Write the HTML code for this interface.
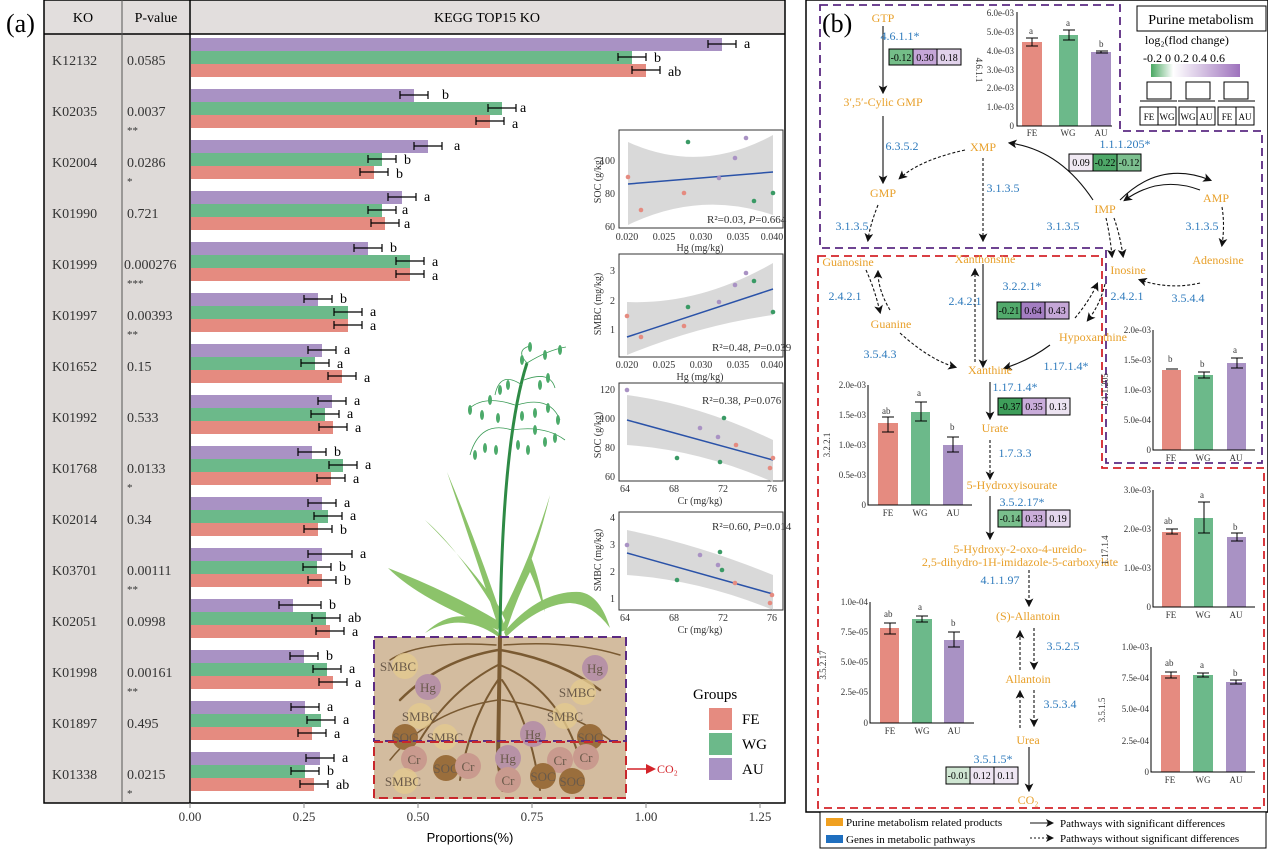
<!DOCTYPE html>
<html><head><meta charset="utf-8"><style>
html,body{margin:0;padding:0;background:#fff;}
svg{display:block;font-family:"Liberation Serif",serif;}
.o{fill:#e8a02a;font-size:12px;text-anchor:middle;}
.b{fill:#2f7bbd;font-size:12px;text-anchor:middle;}
.s{font-size:9px;fill:#333;}
</style></head><body>
<svg width="1268" height="850" viewBox="0 0 1268 850" xmlns="http://www.w3.org/2000/svg">
<rect width="1268" height="850" fill="#fff"/>
<!-- ===== Panel a ===== -->
<text x="6" y="32" font-size="26">(a)</text>
<rect x="44" y="0" width="146" height="803" fill="#dedad8"/>
<rect x="44" y="0" width="741" height="34" fill="#e2dedd"/>
<rect x="44" y="0" width="741" height="803" fill="none" stroke="#000" stroke-width="1.5"/>
<line x1="44" y1="34" x2="785" y2="34" stroke="#000" stroke-width="1.5"/>
<line x1="122" y1="0" x2="122" y2="803" stroke="#555" stroke-width="1"/>
<line x1="190" y1="0" x2="190" y2="803" stroke="#000" stroke-width="1.5"/>
<text x="83" y="22" font-size="14" text-anchor="middle">KO</text>
<text x="156" y="22" font-size="14" text-anchor="middle">P-value</text>
<text x="487" y="22" font-size="14" text-anchor="middle">KEGG  TOP15  KO</text>
<g font-size="14" fill="#333">
<text x="52" y="65">K12132</text><text x="127" y="65">0.0585</text>
<text x="52" y="116">K02035</text><text x="127" y="116">0.0037</text><text x="127" y="134" font-size="11">**</text>
<text x="52" y="167">K02004</text><text x="127" y="167">0.0286</text><text x="127" y="185" font-size="11">*</text>
<text x="52" y="218">K01990</text><text x="127" y="218">0.721</text>
<text x="52" y="269">K01999</text><text x="124" y="269">0.000276</text><text x="127" y="287" font-size="11">***</text>
<text x="52" y="320">K01997</text><text x="127" y="320">0.00393</text><text x="127" y="338" font-size="11">**</text>
<text x="52" y="371">K01652</text><text x="127" y="371">0.15</text>
<text x="52" y="422">K01992</text><text x="127" y="422">0.533</text>
<text x="52" y="473">K01768</text><text x="127" y="473">0.0133</text><text x="127" y="491" font-size="11">*</text>
<text x="52" y="524">K02014</text><text x="127" y="524">0.34</text>
<text x="52" y="575">K03701</text><text x="127" y="575">0.00111</text><text x="127" y="593" font-size="11">**</text>
<text x="52" y="626">K02051</text><text x="127" y="626">0.0998</text>
<text x="52" y="677">K01998</text><text x="127" y="677">0.00161</text><text x="127" y="695" font-size="11">**</text>
<text x="52" y="728">K01897</text><text x="127" y="728">0.495</text>
<text x="52" y="779">K01338</text><text x="127" y="779">0.0215</text><text x="127" y="797" font-size="11">*</text>
</g>
<!-- bars -->
<g>
<rect x="191" y="38" width="531" height="13" fill="#a992c4"/><rect x="191" y="51" width="441" height="13" fill="#6cb98a"/><rect x="191" y="64" width="455" height="13" fill="#e58b80"/>
<rect x="191" y="89" width="223" height="13" fill="#a992c4"/><rect x="191" y="102" width="311" height="13" fill="#6cb98a"/><rect x="191" y="115" width="299" height="13" fill="#e58b80"/>
<rect x="191" y="140" width="237" height="13" fill="#a992c4"/><rect x="191" y="153" width="191" height="13" fill="#6cb98a"/><rect x="191" y="166" width="183" height="13" fill="#e58b80"/>
<rect x="191" y="191" width="211" height="13" fill="#a992c4"/><rect x="191" y="204" width="191" height="13" fill="#6cb98a"/><rect x="191" y="217" width="194" height="13" fill="#e58b80"/>
<rect x="191" y="242" width="177" height="13" fill="#a992c4"/><rect x="191" y="255" width="219" height="13" fill="#6cb98a"/><rect x="191" y="268" width="219" height="13" fill="#e58b80"/>
<rect x="191" y="293" width="127" height="13" fill="#a992c4"/><rect x="191" y="306" width="157" height="13" fill="#6cb98a"/><rect x="191" y="319" width="157" height="13" fill="#e58b80"/>
<rect x="191" y="344" width="131" height="13" fill="#a992c4"/><rect x="191" y="357" width="124" height="13" fill="#6cb98a"/><rect x="191" y="370" width="151" height="13" fill="#e58b80"/>
<rect x="191" y="395" width="141" height="13" fill="#a992c4"/><rect x="191" y="408" width="134" height="13" fill="#6cb98a"/><rect x="191" y="421" width="142" height="13" fill="#e58b80"/>
<rect x="191" y="446" width="121" height="13" fill="#a992c4"/><rect x="191" y="459" width="152" height="13" fill="#6cb98a"/><rect x="191" y="472" width="140" height="13" fill="#e58b80"/>
<rect x="191" y="497" width="131" height="13" fill="#a992c4"/><rect x="191" y="510" width="137" height="13" fill="#6cb98a"/><rect x="191" y="523" width="127" height="13" fill="#e58b80"/>
<rect x="191" y="548" width="131" height="13" fill="#a992c4"/><rect x="191" y="561" width="126" height="13" fill="#6cb98a"/><rect x="191" y="574" width="131" height="13" fill="#e58b80"/>
<rect x="191" y="599" width="102" height="13" fill="#a992c4"/><rect x="191" y="612" width="135" height="13" fill="#6cb98a"/><rect x="191" y="625" width="139" height="13" fill="#e58b80"/>
<rect x="191" y="650" width="113" height="13" fill="#a992c4"/><rect x="191" y="663" width="136" height="13" fill="#6cb98a"/><rect x="191" y="676" width="142" height="13" fill="#e58b80"/>
<rect x="191" y="701" width="114" height="13" fill="#a992c4"/><rect x="191" y="714" width="130" height="13" fill="#6cb98a"/><rect x="191" y="727" width="121" height="13" fill="#e58b80"/>
<rect x="191" y="752" width="129" height="13" fill="#a992c4"/><rect x="191" y="765" width="114" height="13" fill="#6cb98a"/><rect x="191" y="778" width="123" height="13" fill="#e58b80"/>
</g>
<g stroke="#000" stroke-width="1.2" fill="none">
<path d="M708,44H736M708,40V48M736,40V48 M618,57H646M618,53V61M646,53V61 M632,70H660M632,66V74M660,66V74"/>
<path d="M400,95H428M400,91V99M428,91V99 M488,108H516M488,104V112M516,104V112 M476,121H504M476,117V125M504,117V125"/>
<path d="M414,146H442M414,142V150M442,142V150 M368,159H396M368,155V163M396,155V163 M360,172H388M360,168V176M388,168V176"/>
<path d="M388,197H416M388,193V201M416,193V201 M368,210H396M368,206V214M396,206V214 M371,223H399M371,219V227M399,219V227"/>
<path d="M354,248H382M354,244V252M382,244V252 M396,261H424M396,257V265M424,257V265 M396,274H424M396,270V278M424,270V278"/>
<path d="M304,299H332M304,295V303M332,295V303 M334,312H362M334,308V316M362,308V316 M334,325H362M334,321V329M362,321V329"/>
<path d="M308,350H336M308,346V354M336,346V354 M301,363H329M301,359V367M329,359V367 M328,376H356M328,372V380M356,372V380"/>
<path d="M318,401H346M318,397V405M346,397V405 M311,414H339M311,410V418M339,410V418 M319,427H347M319,423V431M347,423V431"/>
<path d="M298,452H326M298,448V456M326,448V456 M329,465H357M329,461V469M357,461V469 M317,478H345M317,474V482M345,474V482"/>
<path d="M308,503H336M308,499V507M336,499V507 M314,516H342M314,512V520M342,512V520 M304,529H332M304,525V533M332,525V533"/>
<path d="M308,554H352M308,550V558M352,550V558 M303,567H331M303,563V571M331,563V571 M308,580H336M308,576V584M336,576V584"/>
<path d="M279,605H321M279,601V609M321,601V609 M312,618H340M312,614V622M340,614V622 M316,631H344M316,627V635M344,627V635"/>
<path d="M290,656H318M290,652V660M318,652V660 M313,669H341M313,665V673M341,665V673 M319,682H347M319,678V686M347,678V686"/>
<path d="M291,707H319M291,703V711M319,703V711 M307,720H335M307,716V724M335,716V724 M298,733H326M298,729V737M326,729V737"/>
<path d="M306,758H334M306,754V762M334,754V762 M291,771H319M291,767V775M319,767V775 M300,784H328M300,780V788M328,780V788"/>
</g>
<g font-size="14">
<text x="744" y="48">a</text><text x="654" y="62">b</text><text x="668" y="76">ab</text>
<text x="442" y="99">b</text><text x="520" y="112">a</text><text x="512" y="128">a</text>
<text x="454" y="150">a</text><text x="404" y="164">b</text><text x="396" y="178">b</text>
<text x="424" y="201">a</text><text x="402" y="214">a</text><text x="404" y="228">a</text>
<text x="390" y="252">b</text><text x="432" y="266">a</text><text x="432" y="280">a</text>
<text x="340" y="303">b</text><text x="370" y="316">a</text><text x="370" y="330">a</text>
<text x="344" y="354">a</text><text x="337" y="368">a</text><text x="364" y="382">a</text>
<text x="354" y="405">a</text><text x="347" y="418">a</text><text x="355" y="432">a</text>
<text x="334" y="456">b</text><text x="365" y="469">a</text><text x="353" y="483">a</text>
<text x="344" y="507">a</text><text x="350" y="520">a</text><text x="340" y="534">b</text>
<text x="360" y="558">a</text><text x="339" y="571">b</text><text x="344" y="585">b</text>
<text x="329" y="609">b</text><text x="348" y="622">ab</text><text x="352" y="636">a</text>
<text x="326" y="660">b</text><text x="349" y="673">a</text><text x="355" y="687">a</text>
<text x="327" y="711">a</text><text x="343" y="724">a</text><text x="334" y="738">a</text>
<text x="342" y="762">a</text><text x="327" y="775">b</text><text x="336" y="789">ab</text>
</g>
<g stroke="#888"><line x1="190" y1="803" x2="190" y2="808"/><line x1="304" y1="803" x2="304" y2="808"/><line x1="418" y1="803" x2="418" y2="808"/><line x1="532" y1="803" x2="532" y2="808"/><line x1="646" y1="803" x2="646" y2="808"/><line x1="760" y1="803" x2="760" y2="808"/></g>
<g font-size="13" fill="#333" text-anchor="middle"><text x="190" y="821">0.00</text><text x="304" y="821">0.25</text><text x="418" y="821">0.50</text><text x="532" y="821">0.75</text><text x="646" y="821">1.00</text><text x="760" y="821">1.25</text></g>
<text x="470" y="842" font-size="13" text-anchor="middle" font-family="Liberation Sans,sans-serif">Proportions(%)</text>
<!-- plant -->
<g fill="#8cc36a">
<path d="M500,632 Q470,540 447,472 Q478,545 506,630Z"/>
<path d="M500,618 Q460,550 425,520 Q470,565 503,612Z"/>
<path d="M500,622 Q450,592 388,568 Q420,600 498,630Z"/>
<path d="M498,632 Q460,600 425,633 Q462,610 500,638Z"/>
<path d="M502,614 Q530,560 550,495 Q535,560 506,622Z"/>
<path d="M502,628 Q520,580 531,557 Q540,580 545,612 Q536,585 530,572 Q516,600 506,632Z"/>
<path d="M504,632 Q540,590 580,592 Q600,595 610,628 Q592,604 570,603 Q540,604 506,637Z"/>
</g>
<path d="M500,637 Q502,440 527,363" stroke="#2e8a45" stroke-width="3" fill="none"/>
<g stroke="#3a9a55" stroke-width="0.8" fill="none">
<path d="M512,430 Q480,420 470,455"/><path d="M512,430 Q545,425 565,440"/><path d="M515,405 Q485,395 470,408"/><path d="M517,405 Q550,395 560,420"/><path d="M522,385 Q500,370 495,395"/><path d="M524,380 Q550,370 555,388"/><path d="M527,363 Q515,350 530,346"/><path d="M527,363 Q548,350 566,347"/>
</g>
<g fill="#4caa6a">
<ellipse cx="475" cy="455" rx="2" ry="5"/><ellipse cx="485" cy="448" rx="2" ry="5"/><ellipse cx="496" cy="450" rx="2" ry="5"/><ellipse cx="518" cy="445" rx="2" ry="5"/><ellipse cx="528" cy="450" rx="2" ry="5"/><ellipse cx="545" cy="442" rx="2" ry="5"/><ellipse cx="555" cy="438" rx="2" ry="5"/><ellipse cx="470" cy="410" rx="2" ry="5"/><ellipse cx="482" cy="415" rx="2" ry="5"/><ellipse cx="498" cy="418" rx="2" ry="5"/><ellipse cx="522" cy="416" rx="2" ry="5"/><ellipse cx="535" cy="413" rx="2" ry="5"/><ellipse cx="548" cy="408" rx="2" ry="5"/><ellipse cx="558" cy="420" rx="2" ry="5"/><ellipse cx="500" cy="390" rx="2" ry="5"/><ellipse cx="508" cy="385" rx="2" ry="5"/><ellipse cx="540" cy="385" rx="2" ry="5"/><ellipse cx="548" cy="378" rx="2" ry="5"/><ellipse cx="522" cy="360" rx="2" ry="5"/><ellipse cx="545" cy="355" rx="2" ry="5"/><ellipse cx="560" cy="350" rx="2" ry="5"/><ellipse cx="530" cy="347" rx="2" ry="5"/><ellipse cx="490" cy="400" rx="2" ry="5"/><ellipse cx="535" cy="430" rx="2" ry="5"/>
</g>
<!-- soil -->
<rect x="374" y="637" width="252" height="162" fill="#d3bc9f"/>
<g fill="none" stroke="#7a5a32" stroke-linecap="round">
<path d="M500,637 L498,760 L503,790" stroke-width="4"/>
<path d="M498,650 Q440,660 400,700" stroke-width="2.5"/><path d="M500,650 Q560,660 600,690" stroke-width="2.5"/>
<path d="M498,665 Q450,690 420,740" stroke-width="2"/><path d="M500,665 Q560,690 580,760" stroke-width="2"/>
<path d="M498,680 Q470,720 460,780" stroke-width="2"/><path d="M502,680 Q530,720 540,790" stroke-width="2"/>
<path d="M498,700 Q430,710 390,760" stroke-width="1.5"/><path d="M502,700 Q570,710 610,740" stroke-width="1.5"/>
<path d="M496,645 Q420,640 390,660" stroke-width="1.5"/><path d="M504,645 Q570,640 620,655" stroke-width="1.5"/>
</g>
<g font-size="13" fill="#6a5a4a" text-anchor="middle">
<circle cx="405" cy="666" r="13" fill="#e3c98f" opacity="0.8"/><text x="398" y="671">SMBC</text>
<circle cx="428" cy="687" r="13" fill="#b792a6"/><text x="428" y="692">Hg</text>
<circle cx="595" cy="668" r="13" fill="#b792a6"/><text x="595" y="673">Hg</text>
<circle cx="583" cy="692" r="13" fill="#e3c98f" opacity="0.8"/><text x="577" y="697">SMBC</text>
<circle cx="420" cy="716" r="13" fill="#e3c98f" opacity="0.8"/><text x="420" y="721">SMBC</text>
<circle cx="565" cy="716" r="13" fill="#e3c98f" opacity="0.8"/><text x="565" y="721">SMBC</text>
<circle cx="405" cy="737" r="13" fill="#9a6e3c"/><text x="405" y="742">SOC</text>
<circle cx="445" cy="737" r="13" fill="#e3c98f" opacity="0.8"/><text x="445" y="742">SMBC</text>
<circle cx="533" cy="734" r="13" fill="#b792a6"/><text x="533" y="739">Hg</text>
<circle cx="590" cy="737" r="13" fill="#9a6e3c"/><text x="590" y="742">SOC</text>
<circle cx="414" cy="759" r="13" fill="#c99a8e"/><text x="414" y="764">Cr</text>
<circle cx="446" cy="768" r="13" fill="#9a6e3c"/><text x="446" y="773">SOC</text>
<circle cx="468" cy="766" r="13" fill="#c99a8e"/><text x="468" y="771">Cr</text>
<circle cx="508" cy="758" r="13" fill="#b792a6"/><text x="508" y="763">Hg</text>
<circle cx="508" cy="780" r="13" fill="#c99a8e"/><text x="508" y="785">Cr</text>
<circle cx="560" cy="760" r="13" fill="#c99a8e"/><text x="560" y="765">Cr</text>
<circle cx="586" cy="757" r="13" fill="#c99a8e"/><text x="586" y="762">Cr</text>
<circle cx="543" cy="776" r="13" fill="#9a6e3c"/><text x="543" y="781">SOC</text>
<circle cx="572" cy="781" r="13" fill="#9a6e3c"/><text x="572" y="786">SOC</text>
<circle cx="405" cy="781" r="13" fill="#e3c98f" opacity="0.8"/><text x="403" y="786">SMBC</text>
</g>
<path d="M374,637H626V741H374Z" fill="none" stroke="#5b2a82" stroke-width="2" stroke-dasharray="9,5"/>
<path d="M374,742H626V798H374Z" fill="none" stroke="#c8272c" stroke-width="2" stroke-dasharray="9,5"/>
<path d="M627,769H650" stroke="#d4242a" stroke-width="1.5"/><path d="M646,764L656,769L646,774Z" fill="#d4242a"/>
<text x="657" y="773" font-size="12" fill="#d4242a">CO₂</text>
<text x="693" y="699" font-size="15">Groups</text>
<rect x="709" y="708" width="23" height="22" fill="#e58b80"/><rect x="709" y="733" width="23" height="22" fill="#6cb98a"/><rect x="709" y="758" width="23" height="22" fill="#a992c4"/>
<text x="742" y="724" font-size="15">FE</text><text x="742" y="749" font-size="15">WG</text><text x="742" y="774" font-size="15">AU</text>
<!-- scatter insets -->
<g font-size="10" fill="#333">
<rect x="619" y="130" width="164" height="98" fill="#fff" stroke="#333"/>
<path d="M628,142 Q700,175 773,135 L773,215 Q700,190 628,225Z" fill="#cfcfcf" opacity="0.8"/>
<line x1="628" y1="184" x2="773" y2="172" stroke="#2a52a8" stroke-width="1.5"/>
<g><circle cx="628" cy="177" r="2.3" fill="#e58b80"/><circle cx="641" cy="210" r="2.3" fill="#e58b80"/><circle cx="684" cy="193" r="2.3" fill="#e58b80"/><circle cx="688" cy="142" r="2.3" fill="#3a9a65"/><circle cx="719" cy="178" r="2.3" fill="#a992c4"/><circle cx="735" cy="158" r="2.3" fill="#a992c4"/><circle cx="746" cy="138" r="2.3" fill="#a992c4"/><circle cx="754" cy="201" r="2.3" fill="#3a9a65"/><circle cx="773" cy="193" r="2.3" fill="#3a9a65"/></g>
<text x="615" y="164" text-anchor="end">100</text><text x="615" y="197" text-anchor="end">80</text><text x="615" y="230" text-anchor="end">60</text>
<text x="707" y="223" font-size="11">R²=0.03, <tspan font-style="italic">P</tspan>=0.664</text>
<text x="627" y="240" text-anchor="middle">0.020</text><text x="664" y="240" text-anchor="middle">0.025</text><text x="701" y="240" text-anchor="middle">0.030</text><text x="738" y="240" text-anchor="middle">0.035</text><text x="772" y="240" text-anchor="middle">0.040</text>
<text x="700" y="251" text-anchor="middle">Hg (mg/kg)</text>
<text transform="translate(601,180) rotate(-90)" text-anchor="middle">SOC (g/kg)</text>

<rect x="619" y="254" width="164" height="103" fill="#fff" stroke="#333"/>
<path d="M627,302 Q700,305 773,263 L773,315 Q700,325 627,355Z" fill="#cfcfcf" opacity="0.8"/>
<line x1="627" y1="337" x2="773" y2="289" stroke="#2a52a8" stroke-width="1.5"/>
<g><circle cx="627" cy="316" r="2.3" fill="#e58b80"/><circle cx="641" cy="337" r="2.3" fill="#e58b80"/><circle cx="684" cy="326" r="2.3" fill="#e58b80"/><circle cx="688" cy="307" r="2.3" fill="#3a9a65"/><circle cx="719" cy="302" r="2.3" fill="#a992c4"/><circle cx="735" cy="285" r="2.3" fill="#a992c4"/><circle cx="746" cy="273" r="2.3" fill="#a992c4"/><circle cx="754" cy="281" r="2.3" fill="#3a9a65"/><circle cx="773" cy="312" r="2.3" fill="#3a9a65"/></g>
<text x="615" y="274" text-anchor="end">3</text><text x="615" y="304" text-anchor="end">2</text><text x="615" y="333" text-anchor="end">1</text>
<text x="712" y="351" font-size="11">R²=0.48, <tspan font-style="italic">P</tspan>=0.039</text>
<text x="627" y="368" text-anchor="middle">0.020</text><text x="664" y="368" text-anchor="middle">0.025</text><text x="701" y="368" text-anchor="middle">0.030</text><text x="738" y="368" text-anchor="middle">0.035</text><text x="772" y="368" text-anchor="middle">0.040</text>
<text x="700" y="380" text-anchor="middle">Hg (mg/kg)</text>
<text transform="translate(601,304) rotate(-90)" text-anchor="middle">SMBC (mg/kg)</text>

<rect x="619" y="383" width="164" height="98" fill="#fff" stroke="#333"/>
<path d="M627,395 Q700,405 773,440 L773,482 Q700,450 627,445Z" fill="#cfcfcf" opacity="0.8"/>
<line x1="627" y1="420" x2="773" y2="460" stroke="#2a52a8" stroke-width="1.5"/>
<g><circle cx="627" cy="390" r="2.3" fill="#a992c4"/><circle cx="677" cy="458" r="2.3" fill="#3a9a65"/><circle cx="700" cy="428" r="2.3" fill="#a992c4"/><circle cx="718" cy="437" r="2.3" fill="#a992c4"/><circle cx="720" cy="462" r="2.3" fill="#3a9a65"/><circle cx="724" cy="418" r="2.3" fill="#3a9a65"/><circle cx="736" cy="445" r="2.3" fill="#e58b80"/><circle cx="770" cy="468" r="2.3" fill="#e58b80"/><circle cx="773" cy="458" r="2.3" fill="#e58b80"/></g>
<text x="615" y="393" text-anchor="end">120</text><text x="615" y="422" text-anchor="end">100</text><text x="615" y="451" text-anchor="end">80</text><text x="615" y="480" text-anchor="end">60</text>
<text x="702" y="404" font-size="11">R²=0.38, <tspan font-style="italic">P</tspan>=0.076</text>
<text x="625" y="492" text-anchor="middle">64</text><text x="674" y="492" text-anchor="middle">68</text><text x="723" y="492" text-anchor="middle">72</text><text x="772" y="492" text-anchor="middle">76</text>
<text x="700" y="504" text-anchor="middle">Cr (mg/kg)</text>
<text transform="translate(601,435) rotate(-90)" text-anchor="middle">SOC (g/kg)</text>

<rect x="619" y="512" width="164" height="98" fill="#fff" stroke="#333"/>
<path d="M627,530 Q700,545 773,575 L773,610 Q700,580 627,575Z" fill="#cfcfcf" opacity="0.8"/>
<line x1="627" y1="553" x2="773" y2="594" stroke="#2a52a8" stroke-width="1.5"/>
<g><circle cx="627" cy="545" r="2.3" fill="#a992c4"/><circle cx="677" cy="580" r="2.3" fill="#3a9a65"/><circle cx="700" cy="555" r="2.3" fill="#a992c4"/><circle cx="718" cy="565" r="2.3" fill="#a992c4"/><circle cx="720" cy="552" r="2.3" fill="#3a9a65"/><circle cx="722" cy="570" r="2.3" fill="#3a9a65"/><circle cx="735" cy="583" r="2.3" fill="#e58b80"/><circle cx="770" cy="603" r="2.3" fill="#e58b80"/><circle cx="772" cy="595" r="2.3" fill="#e58b80"/></g>
<text x="615" y="521" text-anchor="end">4</text><text x="615" y="548" text-anchor="end">3</text><text x="615" y="575" text-anchor="end">2</text><text x="615" y="602" text-anchor="end">1</text>
<text x="712" y="530" font-size="11">R²=0.60, <tspan font-style="italic">P</tspan>=0.014</text>
<text x="625" y="621" text-anchor="middle">64</text><text x="674" y="621" text-anchor="middle">68</text><text x="723" y="621" text-anchor="middle">72</text><text x="772" y="621" text-anchor="middle">76</text>
<text x="700" y="633" text-anchor="middle">Cr (mg/kg)</text>
<text transform="translate(601,560) rotate(-90)" text-anchor="middle">SMBC (mg/kg)</text>
</g>

<!-- ===== Panel b ===== -->
<rect x="806" y="0" width="462" height="812" fill="none" stroke="#000" stroke-width="1.5"/>
<text x="822" y="32" font-size="26">(b)</text>
<path d="M820,5H1120V131H1262V463H1106V248H820Z" fill="none" stroke="#5b2a82" stroke-width="1.8" stroke-dasharray="8,5"/>
<path d="M818,256H1102V468H1264V808H818Z" fill="none" stroke="#d4242a" stroke-width="1.8" stroke-dasharray="8,5"/>
<rect x="1137" y="6" width="129" height="25" fill="#fff" stroke="#000"/>
<text x="1201" y="24" font-size="14" text-anchor="middle">Purine metabolism</text>
<text x="1145" y="44" font-size="12">log₂(flod change)</text>
<text x="1143" y="62" font-size="12">-0.2  0   0.2  0.4  0.6</text>
<defs><linearGradient id="g1"><stop offset="0" stop-color="#4aa862"/><stop offset="0.25" stop-color="#ffffff"/><stop offset="1" stop-color="#9e72bd"/></linearGradient></defs>
<rect x="1151" y="64" width="89" height="13" fill="url(#g1)"/>
<g fill="none" stroke="#000"><rect x="1147" y="82" width="24" height="17"/><rect x="1186" y="82" width="24" height="17"/><rect x="1224" y="82" width="24" height="17"/>
<path d="M1140,101H1177M1178,101H1215M1218,101H1255"/>
<rect x="1140" y="107" width="18" height="18"/><rect x="1158" y="107" width="18" height="18"/><rect x="1179" y="107" width="18" height="18"/><rect x="1197" y="107" width="18" height="18"/><rect x="1218" y="107" width="18" height="18"/><rect x="1236" y="107" width="18" height="18"/></g>
<g font-size="9" text-anchor="middle"><text x="1149" y="120">FE</text><text x="1167" y="120">WG</text><text x="1188" y="120">WG</text><text x="1206" y="120">AU</text><text x="1227" y="120">FE</text><text x="1245" y="120">AU</text></g>
<defs><marker id="ar" markerWidth="8" markerHeight="8" refX="6" refY="4" orient="auto"><path d="M0,0L8,4L0,8L2,4Z" fill="#111"/></marker></defs>
<g fill="none" stroke="#111" stroke-width="1.1">
<path d="M883,26V92" marker-end="url(#ar)"/>
<path d="M883,116V182" marker-end="url(#ar)"/>
<path d="M1093,200 Q1060,150 1010,143" marker-end="url(#ar)"/>
<path d="M1120,200 Q1160,160 1210,180" marker-end="url(#ar)"/>
<path d="M1200,190 Q1160,175 1125,200" marker-end="url(#ar)"/>
<path d="M983,264V366" marker-end="url(#ar)"/>
<path d="M1050,345 Q1030,360 1005,368" marker-end="url(#ar)"/>
<path d="M990,382V418" marker-end="url(#ar)"/>
<path d="M990,496V538" marker-end="url(#ar)"/>
<path d="M1029,747V790" marker-end="url(#ar)"/>
</g>
<g fill="none" stroke="#111" stroke-width="1.1" stroke-dasharray="3,2">
<path d="M965,150 Q920,160 900,178" marker-end="url(#ar)"/>
<path d="M983,158V240" marker-end="url(#ar)"/>
<path d="M878,205 Q870,225 868,240" marker-end="url(#ar)"/>
<path d="M1106,218 Q1110,235 1112,256" marker-end="url(#ar)"/>
<path d="M1114,218 Q1120,235 1123,256" marker-end="url(#ar)"/>
<path d="M1222,207 Q1225,225 1222,245" marker-end="url(#ar)"/>
<path d="M1200,283 Q1170,290 1140,280" marker-end="url(#ar)"/>
<path d="M866,270 Q875,290 880,312" marker-end="url(#ar)"/>
<path d="M890,310 Q878,290 878,272" marker-end="url(#ar)"/>
<path d="M900,333 Q930,360 955,367" marker-end="url(#ar)"/>
<path d="M975,362V270" marker-end="url(#ar)"/>
<path d="M1075,318 Q1090,300 1097,284" marker-end="url(#ar)"/>
<path d="M1105,284 Q1100,305 1088,320" marker-end="url(#ar)"/>
<path d="M990,440V478" marker-end="url(#ar)"/>
<path d="M1029,570V605" marker-end="url(#ar)"/>
<path d="M1034,628V668" marker-end="url(#ar)"/>
<path d="M1020,670V632" marker-end="url(#ar)"/>
<path d="M1034,690V725" marker-end="url(#ar)"/>
<path d="M1020,728V692" marker-end="url(#ar)"/>
</g>
<g class="o">
<text x="883" y="22">GTP</text><text x="883" y="106">3′,5′-Cylic GMP</text><text x="883" y="197">GMP</text><text x="983" y="151">XMP</text>
<text x="1105" y="213">IMP</text><text x="1216" y="202">AMP</text><text x="848" y="266">Guanosine</text><text x="985" y="263">Xanthonsine</text>
<text x="1128" y="274">Inosine</text><text x="1218" y="264">Adenosine</text><text x="891" y="328">Guanine</text><text x="1093" y="341">Hypoxanthine</text>
<text x="990" y="374">Xanthine</text><text x="995" y="432">Urate</text><text x="1012" y="489">5-Hydroxyisourate</text>
<text x="1020" y="553">5-Hydroxy-2-oxo-4-ureido-</text><text x="1020" y="566">2,5-dihydro-1H-imidazole-5-carboxylate</text>
<text x="1028" y="620">(S)-Allantoin</text><text x="1028" y="683">Allantoin</text><text x="1028" y="744">Urea</text><text x="1028" y="804">CO₂</text>
</g>
<g class="b">
<text x="900" y="40">4.6.1.1*</text><text x="902" y="150">6.3.5.2</text><text x="1125" y="148">1.1.1.205*</text><text x="1003" y="192">3.1.3.5</text>
<text x="852" y="230">3.1.3.5</text><text x="1063" y="230">3.1.3.5</text><text x="1202" y="230">3.1.3.5</text>
<text x="845" y="300">2.4.2.1</text><text x="965" y="305">2.4.2.1</text><text x="1022" y="290">3.2.2.1*</text><text x="1127" y="300">2.4.2.1</text>
<text x="1188" y="302">3.5.4.4</text><text x="880" y="358">3.5.4.3</text><text x="1066" y="370">1.17.1.4*</text><text x="1015" y="391">1.17.1.4*</text>
<text x="1015" y="457">1.7.3.3</text><text x="1022" y="506">3.5.2.17*</text><text x="1000" y="584">4.1.1.97</text>
<text x="1063" y="650">3.5.2.5</text><text x="1060" y="708">3.5.3.4</text><text x="993" y="763">3.5.1.5*</text>
</g>
<g font-size="10" text-anchor="middle">
<rect x="889" y="49" width="24" height="16" fill="#74bd88" stroke="#000"/><rect x="913" y="49" width="24" height="16" fill="#c5a6d8" stroke="#000"/><rect x="937" y="49" width="24" height="16" fill="#e1d2eb" stroke="#000"/>
<text x="901" y="61">-0.12</text><text x="925" y="61">0.30</text><text x="949" y="61">0.18</text>
<rect x="1069" y="154" width="24" height="17" fill="#f0e9f3" stroke="#000"/><rect x="1093" y="154" width="24" height="17" fill="#4ea868" stroke="#000"/><rect x="1117" y="154" width="24" height="17" fill="#7cc08f" stroke="#000"/>
<text x="1081" y="166">0.09</text><text x="1105" y="166">-0.22</text><text x="1129" y="166">-0.12</text>
<rect x="997" y="302" width="24" height="17" fill="#52aa6c" stroke="#000"/><rect x="1021" y="302" width="24" height="17" fill="#a47ec2" stroke="#000"/><rect x="1045" y="302" width="24" height="17" fill="#c5a7d7" stroke="#000"/>
<text x="1009" y="314">-0.21</text><text x="1033" y="314">0.64</text><text x="1057" y="314">0.43</text>
<rect x="998" y="398" width="24" height="17" fill="#3e9e5a" stroke="#000"/><rect x="1022" y="398" width="24" height="17" fill="#c9acda" stroke="#000"/><rect x="1046" y="398" width="24" height="17" fill="#ece3f1" stroke="#000"/>
<text x="1010" y="410">-0.37</text><text x="1034" y="410">0.35</text><text x="1058" y="410">0.13</text>
<rect x="998" y="510" width="24" height="17" fill="#79bf8c" stroke="#000"/><rect x="1022" y="510" width="24" height="17" fill="#cbaedb" stroke="#000"/><rect x="1046" y="510" width="24" height="17" fill="#e3d5ec" stroke="#000"/>
<text x="1010" y="522">-0.14</text><text x="1034" y="522">0.33</text><text x="1058" y="522">0.19</text>
<rect x="946" y="767" width="24" height="17" fill="#cfe6d2" stroke="#000"/><rect x="970" y="767" width="24" height="17" fill="#ede4f1" stroke="#000"/><rect x="994" y="767" width="24" height="17" fill="#eee6f2" stroke="#000"/>
<text x="958" y="779">-0.01</text><text x="982" y="779">0.12</text><text x="1006" y="779">0.11</text>
</g>
<g class="s">
<!-- 4.6.1.1 -->
<rect x="1022" y="42" width="20" height="84" fill="#e58b80"/><rect x="1059" y="35" width="19" height="91" fill="#6cb98a"/><rect x="1091" y="52" width="20" height="74" fill="#a992c4"/>
<path d="M1017,12V126H1112" stroke="#000" fill="none"/>
<g text-anchor="end"><text x="1014" y="16">6.0e-03</text><text x="1014" y="35">5.0e-03</text><text x="1014" y="54">4.0e-03</text><text x="1014" y="73">3.0e-03</text><text x="1014" y="91">2.0e-03</text><text x="1014" y="110">1.0e-03</text><text x="1014" y="129">0</text></g>
<text x="1032" y="136" text-anchor="middle">FE</text><text x="1068" y="136" text-anchor="middle">WG</text><text x="1101" y="136" text-anchor="middle">AU</text>
<text transform="translate(976,70) rotate(90)" text-anchor="middle">4.6.1.1</text>
<text x="1029" y="34">a</text><text x="1066" y="26">a</text><text x="1099" y="47">b</text>
<!-- 1.1.1.205 -->
<rect x="1162" y="370" width="19" height="80" fill="#e58b80"/><rect x="1194" y="375" width="19" height="75" fill="#6cb98a"/><rect x="1227" y="363" width="19" height="87" fill="#a992c4"/>
<path d="M1153,330V450H1255" stroke="#000" fill="none"/>
<g text-anchor="end"><text x="1151" y="333">2.0e-03</text><text x="1151" y="363">1.5e-03</text><text x="1151" y="393">1.0e-03</text><text x="1151" y="423">5.0e-04</text><text x="1151" y="453">0</text></g>
<text x="1171" y="461" text-anchor="middle">FE</text><text x="1203" y="461" text-anchor="middle">WG</text><text x="1236" y="461" text-anchor="middle">AU</text>
<text transform="translate(1108,390) rotate(-90)" text-anchor="middle">1.1.1.205</text>
<text x="1168" y="362">b</text><text x="1200" y="367">b</text><text x="1233" y="353">a</text>
<!-- 3.2.2.1 -->
<rect x="878" y="423" width="20" height="82" fill="#e58b80"/><rect x="911" y="412" width="19" height="93" fill="#6cb98a"/><rect x="943" y="445" width="20" height="60" fill="#a992c4"/>
<path d="M868,385V505H972" stroke="#000" fill="none"/>
<g text-anchor="end"><text x="866" y="388">2.0e-03</text><text x="866" y="418">1.5e-03</text><text x="866" y="448">1.0e-03</text><text x="866" y="478">0.5e-03</text><text x="866" y="508">0</text></g>
<text x="888" y="516" text-anchor="middle">FE</text><text x="920" y="516" text-anchor="middle">WG</text><text x="953" y="516" text-anchor="middle">AU</text>
<text transform="translate(830,445) rotate(-90)" text-anchor="middle">3.2.2.1</text>
<text x="882" y="414">ab</text><text x="917" y="396">a</text><text x="950" y="430">b</text>
<!-- 1.17.1.4 -->
<rect x="1162" y="532" width="19" height="75" fill="#e58b80"/><rect x="1194" y="518" width="19" height="89" fill="#6cb98a"/><rect x="1227" y="537" width="19" height="70" fill="#a992c4"/>
<path d="M1153,490V607H1255" stroke="#000" fill="none"/>
<g text-anchor="end"><text x="1151" y="493">3.0e-03</text><text x="1151" y="532">2.0e-03</text><text x="1151" y="571">1.0e-03</text><text x="1151" y="610">0</text></g>
<text x="1171" y="618" text-anchor="middle">FE</text><text x="1203" y="618" text-anchor="middle">WG</text><text x="1236" y="618" text-anchor="middle">AU</text>
<text transform="translate(1108,550) rotate(-90)" text-anchor="middle">1.17.1.4</text>
<text x="1164" y="524">ab</text><text x="1200" y="498">a</text><text x="1233" y="530">b</text>
<!-- 3.5.2.17 -->
<rect x="880" y="628" width="19" height="95" fill="#e58b80"/><rect x="912" y="619" width="20" height="104" fill="#6cb98a"/><rect x="944" y="640" width="20" height="83" fill="#a992c4"/>
<path d="M870,602V723H974" stroke="#000" fill="none"/>
<g text-anchor="end"><text x="868" y="605">1.0e-04</text><text x="868" y="635">7.5e-05</text><text x="868" y="665">5.0e-05</text><text x="868" y="695">2.5e-05</text><text x="868" y="726">0</text></g>
<text x="890" y="734" text-anchor="middle">FE</text><text x="922" y="734" text-anchor="middle">WG</text><text x="954" y="734" text-anchor="middle">AU</text>
<text transform="translate(826,665) rotate(-90)" text-anchor="middle">3.5.2.17</text>
<text x="884" y="617">ab</text><text x="918" y="610">a</text><text x="951" y="626">b</text>
<!-- 3.5.1.5 -->
<rect x="1161" y="675" width="19" height="97" fill="#e58b80"/><rect x="1193" y="675" width="20" height="97" fill="#6cb98a"/><rect x="1226" y="682" width="20" height="90" fill="#a992c4"/>
<path d="M1151,647V772H1255" stroke="#000" fill="none"/>
<g text-anchor="end"><text x="1149" y="650">1.0e-03</text><text x="1149" y="681">7.5e-04</text><text x="1149" y="712">5.0e-04</text><text x="1149" y="744">2.5e-04</text><text x="1149" y="775">0</text></g>
<text x="1170" y="783" text-anchor="middle">FE</text><text x="1203" y="783" text-anchor="middle">WG</text><text x="1236" y="783" text-anchor="middle">AU</text>
<text transform="translate(1105,710) rotate(-90)" text-anchor="middle">3.5.1.5</text>
<text x="1165" y="666">ab</text><text x="1200" y="668">a</text><text x="1233" y="676">b</text>
</g>
<g stroke="#000" stroke-width="1" fill="none">
<path d="M1026,38H1038M1032,38V46M1026,46H1038 M1063,30H1075M1069,30V40M1063,40H1075 M1096,51H1108M1101,51V53M1096,53H1108"/>
<path d="M1166,369H1178 M1198,372H1210M1204,372V378M1198,378H1210 M1231,358H1243M1237,358V368M1231,368H1243"/>
<path d="M882,417H894M888,417V432M882,432H894 M915,402H927M921,402V421M915,421H927 M947,437H959M953,437V452M947,452H959"/>
<path d="M1166,529H1178M1172,529V534M1166,534H1178 M1198,502H1210M1204,502V533M1198,533H1210 M1231,533H1243M1237,533V541M1231,541H1243"/>
<path d="M884,623H896M890,623V634M884,634H896 M916,616H928M922,616V622M916,622H928 M948,632H960M954,632V647M948,647H960"/>
<path d="M1165,672H1177M1171,672V678M1165,678H1177 M1197,673H1209M1203,673V677M1197,677H1209 M1230,680H1242M1236,680V684M1230,684H1242"/>
</g>
<rect x="820" y="812" width="446" height="36" fill="#fff" stroke="#000"/>
<rect x="826" y="818" width="17" height="8" fill="#f0a020"/><rect x="826" y="835" width="17" height="8" fill="#1f6fbf"/>
<g font-size="11"><text x="846" y="826">Purine metabolism related products</text><text x="846" y="843">Genes in metabolic pathways</text>
<text x="1060" y="827">Pathways with significant differences</text><text x="1060" y="842">Pathways without significant differences</text></g>
<path d="M1030,823H1052" stroke="#111" marker-end="url(#ar)"/>
<path d="M1030,838H1052" stroke="#111" stroke-dasharray="2,2" marker-end="url(#ar)"/>
</svg>
</body></html>
